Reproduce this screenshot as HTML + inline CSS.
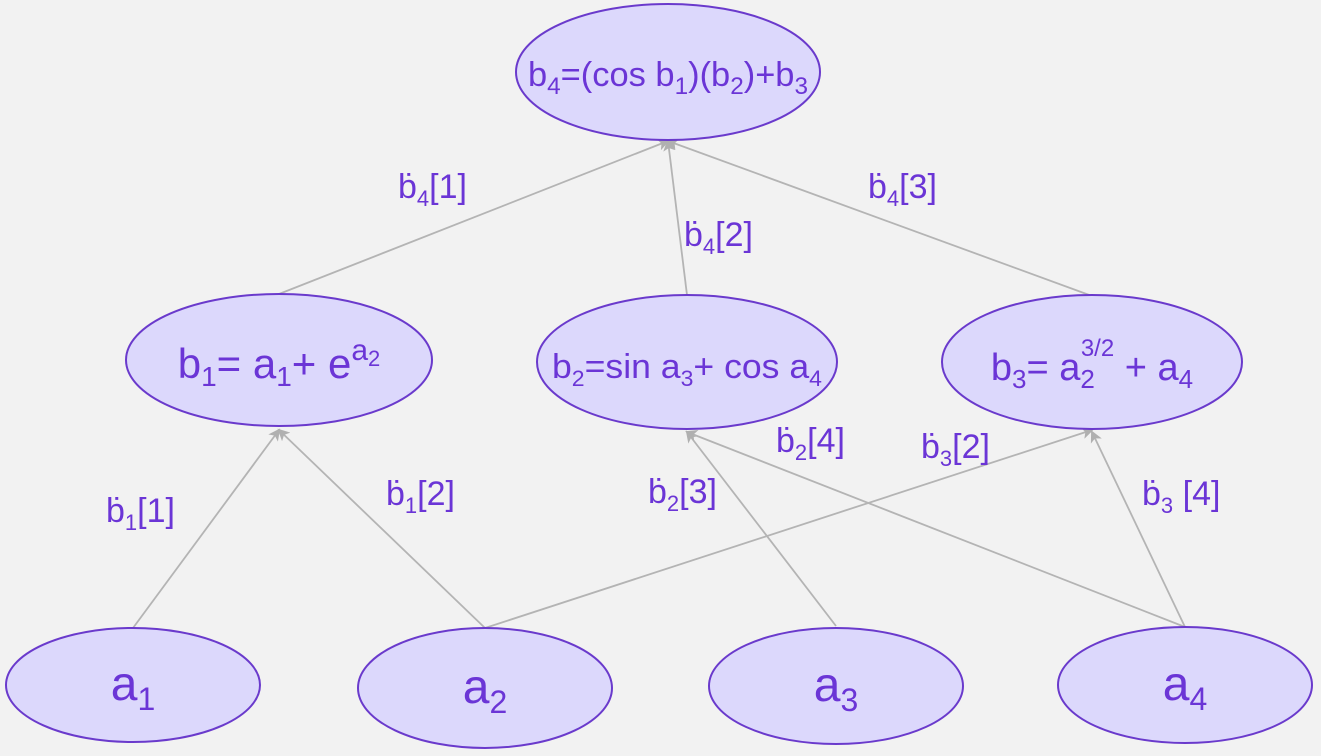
<!DOCTYPE html>
<html><head><style>
html,body{margin:0;padding:0;background:#f2f2f2;}
svg{display:block;}
text{font-family:"Liberation Sans",sans-serif;fill:#6b35d6;}
</style></head><body>
<svg width="1321" height="756" viewBox="0 0 1321 756" xmlns="http://www.w3.org/2000/svg">
<defs><marker id="ar" markerWidth="12" markerHeight="12" refX="10" refY="6" orient="auto" markerUnits="userSpaceOnUse"><path d="M0,0 L12,6 L0,12 L3,6 Z" fill="#b0b0b0"/></marker></defs>
<rect width="1321" height="756" fill="#f2f2f2"/>
<g stroke="#b4b4b4" stroke-width="1.8" fill="none" marker-end="url(#ar)">
<line x1="279" y1="294" x2="668" y2="141"/>
<line x1="687" y1="295" x2="668" y2="141"/>
<line x1="1092" y1="296" x2="668" y2="141"/>
<line x1="133" y1="628" x2="279" y2="430"/>
<line x1="485" y1="628" x2="279" y2="430"/>
<line x1="485" y1="628" x2="1092" y2="430"/>
<line x1="836" y1="626" x2="687" y2="432"/>
<line x1="1185" y1="627" x2="687" y2="432"/>
<line x1="1185" y1="627" x2="1092" y2="432"/>
</g>
<g fill="#dcd8fc" stroke="#6a3acc" stroke-width="2">
<ellipse cx="668" cy="72" rx="152" ry="68"/>
<ellipse cx="279" cy="360" rx="153" ry="66"/>
<ellipse cx="687" cy="362" rx="150" ry="67"/>
<ellipse cx="1092" cy="362" rx="150" ry="67"/>
<ellipse cx="133" cy="685" rx="127" ry="57"/>
<ellipse cx="485" cy="688" rx="127" ry="60"/>
<ellipse cx="836" cy="686" rx="127" ry="58"/>
<ellipse cx="1185" cy="685" rx="127" ry="58"/>
</g>
<text x="668" y="86" font-size="34" text-anchor="middle" textLength="280" lengthAdjust="spacingAndGlyphs">b<tspan font-size="24" dy="8">4</tspan><tspan dy="-8">=(cos b</tspan><tspan font-size="24" dy="8">1</tspan><tspan dy="-8">)(b</tspan><tspan font-size="24" dy="8">2</tspan><tspan dy="-8">)+b</tspan><tspan font-size="24" dy="8">3</tspan></text>
<text x="279" y="378" font-size="42" text-anchor="middle">b<tspan font-size="28" dy="8">1</tspan><tspan dy="-8">= a</tspan><tspan font-size="28" dy="8">1</tspan><tspan dy="-8">+ e</tspan><tspan font-size="30" dy="-18">a</tspan><tspan font-size="22" dy="6">2</tspan></text>
<text x="687" y="378" font-size="34" text-anchor="middle" textLength="270" lengthAdjust="spacingAndGlyphs">b<tspan font-size="22" dy="8">2</tspan><tspan dy="-8">=sin a</tspan><tspan font-size="22" dy="8">3</tspan><tspan dy="-8">+ cos a</tspan><tspan font-size="22" dy="8">4</tspan></text>
<text x="1092" y="380" font-size="38" text-anchor="middle">b<tspan font-size="26" dy="8">3</tspan><tspan dy="-8">= a</tspan><tspan font-size="26" dy="8">2</tspan><tspan font-size="24" dx="-14" dy="-32">3/2</tspan><tspan dy="24"> + a</tspan><tspan font-size="26" dy="8">4</tspan></text>
<text x="133" y="700" font-size="48" text-anchor="middle">a<tspan font-size="32" dy="10">1</tspan></text>
<text x="485" y="703" font-size="48" text-anchor="middle">a<tspan font-size="32" dy="10">2</tspan></text>
<text x="836" y="701" font-size="48" text-anchor="middle">a<tspan font-size="32" dy="10">3</tspan></text>
<text x="1185" y="700" font-size="48" text-anchor="middle">a<tspan font-size="32" dy="10">4</tspan></text>
<g font-size="34">
<text x="398" y="198">ḃ<tspan font-size="22" dy="8">4</tspan><tspan dy="-8">[1]</tspan></text>
<text x="684" y="246">ḃ<tspan font-size="22" dy="8">4</tspan><tspan dy="-8">[2]</tspan></text>
<text x="868" y="198">ḃ<tspan font-size="22" dy="8">4</tspan><tspan dy="-8">[3]</tspan></text>
<text x="106" y="522">ḃ<tspan font-size="22" dy="8">1</tspan><tspan dy="-8">[1]</tspan></text>
<text x="386" y="505">ḃ<tspan font-size="22" dy="8">1</tspan><tspan dy="-8">[2]</tspan></text>
<text x="648" y="503">ḃ<tspan font-size="22" dy="8">2</tspan><tspan dy="-8">[3]</tspan></text>
<text x="776" y="452">ḃ<tspan font-size="22" dy="8">2</tspan><tspan dy="-8">[4]</tspan></text>
<text x="921" y="458">ḃ<tspan font-size="22" dy="8">3</tspan><tspan dy="-8">[2]</tspan></text>
<text x="1142" y="505">ḃ<tspan font-size="22" dy="8">3</tspan><tspan dy="-8"> [4]</tspan></text>
</g>
</svg>
</body></html>
